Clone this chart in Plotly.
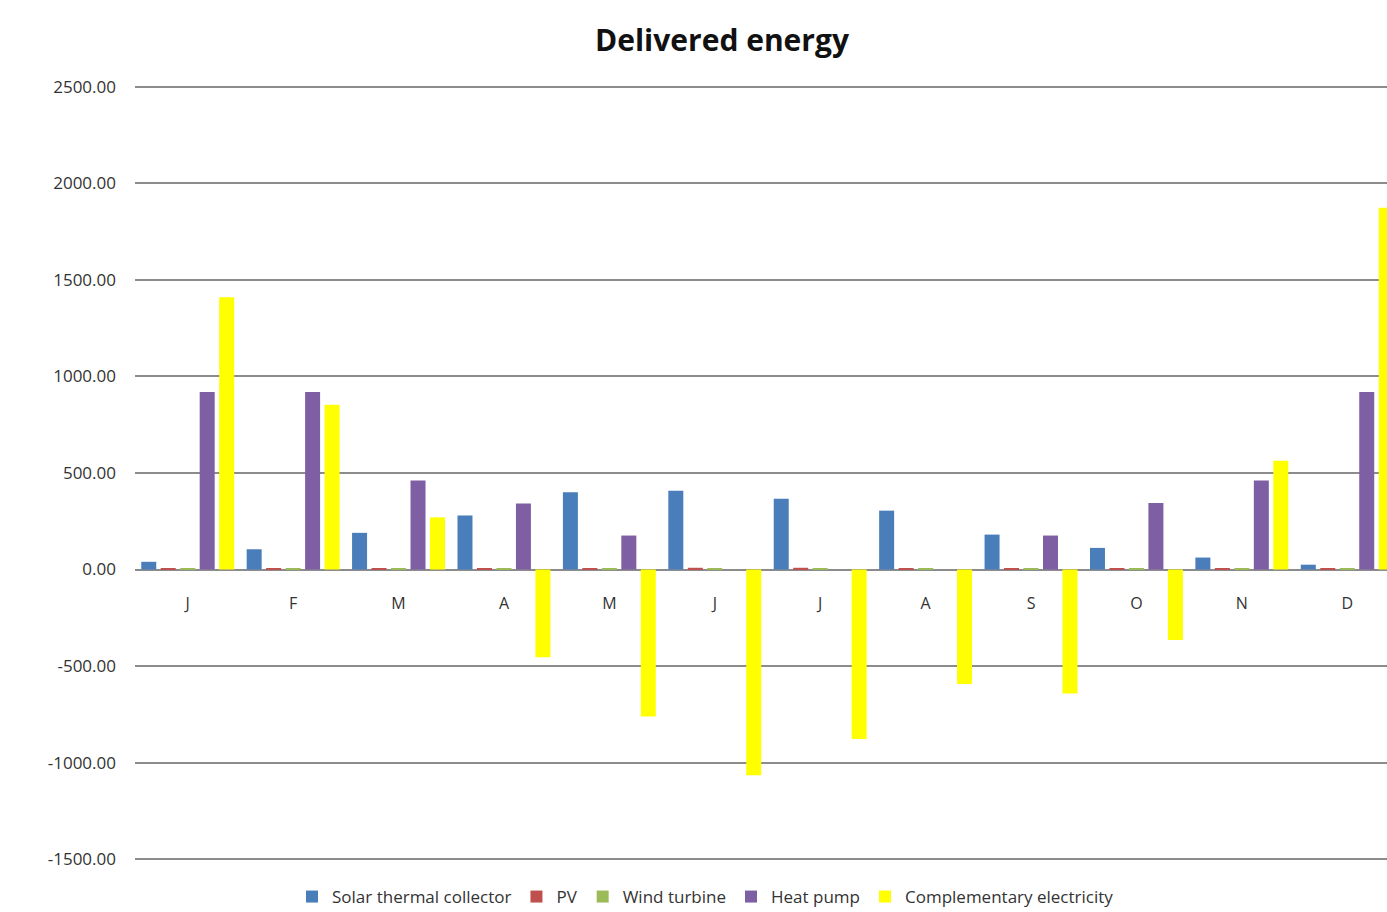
import plotly.graph_objects as go

months = ["J", "F", "M", "A", "M", "J", "J", "A", "S", "O", "N", "D"]
solar_thermal = [40, 105, 190, 280, 400, 408, 367, 305, 181, 112, 62, 25]
pv = [8, 7, 8, 8, 8, 9, 9, 8, 7, 7, 6, 6]
wind = [5, 5, 5, 4, 4, 4, 4, 4, 4, 4, 4, 5]
heat_pump = [920, 920, 461, 342, 176, 0, 0, 0, 176, 345, 461, 920]
complementary = [1410, 854, 270, -455, -762, -1066, -878, -593, -642, -365, 564, 1874]

series = [
    ("Solar thermal collector", solar_thermal, "#4A7EBB"),
    ("PV", pv, "#C0504D"),
    ("Wind turbine", wind, "#9BBB59"),
    ("Heat pump", heat_pump, "#7F5FA3"),
    ("Complementary electricity", complementary, "#FFFF00"),
]

x_idx = list(range(len(months)))

fig = go.Figure()
for name, vals, col in series:
    fig.add_trace(go.Bar(x=x_idx, y=vals, name=name, marker=dict(color=col, line=dict(width=0))))

top_px, bot_px = 85, 861
ymin, ymax = -1510, 2510
zero_pos = (0 - ymin) / (ymax - ymin)

fig.update_layout(
    width=1387, height=912,
    paper_bgcolor="white", plot_bgcolor="white",
    margin=dict(l=135, r=0, t=top_px, b=912 - bot_px, autoexpand=False),
    barmode="group", bargap=0.076, bargroupgap=0.23,
    title=dict(text="<b>Delivered energy</b>", x=722/1387, xanchor="center", y=1-40/912, yanchor="middle",
               font=dict(family="Open Sans", size=30, color="#111111")),
    font=dict(family="Open Sans", color="#333333"),
    xaxis=dict(
        tickmode="array", tickvals=x_idx, ticktext=months,
        range=[-0.5, 11.377], showgrid=False, showline=False, zeroline=False,
        ticks="", tickfont=dict(size=16, color="#333333"),
        anchor="free", position=zero_pos, ticklabelstandoff=22,
    ),
    yaxis=dict(
        range=[ymin, ymax], tickvals=[-1500, -1000, -500, 0, 500, 1000, 1500, 2000, 2500],
        ticktext=["-1500.00", "-1000.00", "-500.00", "0.00", "500.00", "1000.00", "1500.00", "2000.00", "2500.00"],
        showgrid=True, gridcolor="#8c8c8c", gridwidth=1.5,
        zeroline=True, zerolinecolor="#8c8c8c", zerolinewidth=1.5,
        showline=False, ticks="", tickfont=dict(size=17, color="#333333"), ticklabelstandoff=18,
    ),
    legend=dict(orientation="h", x=292/1387, xref="container", xanchor="left",
                y=1 - 897/912, yref="container", yanchor="middle",
                font=dict(size=17, color="#333333"), traceorder="normal"),
)

fig.write_html("out.html")
